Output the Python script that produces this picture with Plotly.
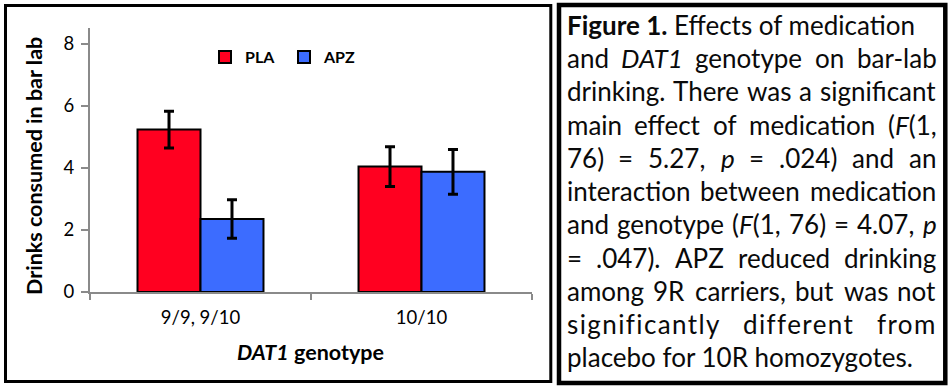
import json
import plotly.graph_objects as go

# ---------------- data ----------------
categories = ["9/9, 9/10", "10/10"]
series_names = ["PLA", "APZ"]
pla_values = [5.23, 4.04]
pla_errors = [0.59, 0.64]
apz_values = [2.35, 3.87]
apz_errors = [0.62, 0.72]
y_tick_values = [0, 2, 4, 6, 8]
y_tick_labels = ["0", "2", "4", "6", "8"]

# ---------------- geometry helpers ----------------
W, H = 951, 389
L, R, T, B = 90, 419, 28, 97
PW = W - L - R
PH = H - T - B


def px_x(px):
    return (px - L) / PW


def px_y(py):
    return (H - B - py) / PH


FONT = "Lato, 'Open Sans', sans-serif"
RED = "#FF0020"
BLUE = "#3C6CFF"
AXIS_GRAY = "#8A8A8A"

fig = go.Figure()
fig.add_trace(go.Bar(
    x=categories, y=pla_values, name=series_names[0],
    marker=dict(color=RED, line=dict(color="black", width=2)),
    error_y=dict(type="data", array=pla_errors, visible=True,
                 color="black", thickness=3, width=5),
))
fig.add_trace(go.Bar(
    x=categories, y=apz_values, name=series_names[1],
    marker=dict(color=BLUE, line=dict(color="black", width=2)),
    error_y=dict(type="data", array=apz_errors, visible=True,
                 color="black", thickness=3, width=5),
))

fig.update_layout(
    width=W, height=H,
    margin=dict(l=L, r=R, t=T, b=B, pad=0),
    paper_bgcolor="white", plot_bgcolor="white",
    barmode="group", bargap=0.43, bargroupgap=0,
    font=dict(family=FONT, color="black"),
    showlegend=True,
    legend=dict(
        orientation="h", x=px_x(205), xanchor="left",
        y=px_y(57), yanchor="middle",
        font=dict(family=FONT, size=16, color="black", weight="bold"),
        bgcolor="rgba(0,0,0,0)", borderwidth=0,
        entrywidth=34, itemclick=False, itemdoubleclick=False,
    ),
    xaxis=dict(
        type="category", range=[-0.5, 1.5],
        showline=True, linecolor=AXIS_GRAY, linewidth=2,
        ticks="outside", ticklen=6, tickwidth=2, tickcolor=AXIS_GRAY,
        tickson="boundaries", showgrid=False, zeroline=False,
        tickfont=dict(family=FONT, size=18.5, color="black"),
        ticklabelstandoff=8, fixedrange=True,
    ),
    yaxis=dict(
        range=[0, 8.5], tickvals=y_tick_values, ticktext=y_tick_labels,
        showline=True, linecolor=AXIS_GRAY, linewidth=2,
        ticks="outside", ticklen=7, tickwidth=2, tickcolor=AXIS_GRAY,
        showgrid=False, zeroline=False,
        tickfont=dict(family=FONT, size=18.5, color="black"),
        ticklabelstandoff=3, fixedrange=True,
    ),
)

annotations = []
# axis titles
annotations.append(dict(
    text="<b>Drinks consumed in bar lab</b>", textangle=-90,
    x=px_x(34), y=px_y(166), xref="paper", yref="paper",
    xanchor="center", yanchor="middle", showarrow=False,
    font=dict(family=FONT, size=21.5, color="black"),
))
annotations.append(dict(
    text="<b><i>DAT1</i> genotype</b>",
    x=px_x(310), y=px_y(352), xref="paper", yref="paper",
    xanchor="center", yanchor="middle", showarrow=False,
    font=dict(family=FONT, size=21.5, color="black"),
))

# caption text box: words are justified between LEFT and RIGHT
LEFT, RIGHT = 566.5, 936.5
SP = "<span style='letter-spacing:1.4px'>%s</span>"
cap_lines = [
    (False, ["<b>Figure 1.</b> Effects of medication"]),
    (True, ["and", "<i>DAT1</i>", "genotype", "on", "bar-lab"]),
    (True, ["drinking.", "There", "was", "a", "significant"]),
    (True, ["main", "effect", "of", "medication", "(<i>F</i>(1,"]),
    (True, ["76)", "=", "5.27,", "<i>p</i>", "=", ".024)", "and", "an"]),
    (True, ["interaction", "between", "medication"]),
    (True, ["and", "genotype", "(<i>F</i>(1,", "76)", "=", "4.07,", "<i>p</i>"]),
    (True, ["=", ".047).", "APZ", "reduced", "drinking"]),
    (True, ["among", "9R", "carriers,", "but", "was", "not"]),
    (True, [SP % "significantly", SP % "different", SP % "from"]),
    (False, ["placebo for 10R homozygotes."]),
]
CAP_SIZE = 26
justify_groups = []
for i, (justified, words) in enumerate(cap_lines):
    baseline = 35 + 33.25 * i
    ymid = baseline - 0.387 * CAP_SIZE
    idxs = []
    n = len(words)
    for k, text in enumerate(words):
        # provisional even spread; refined in the browser with measured widths
        xpx = LEFT + (RIGHT - LEFT) * (k / max(n - 1, 1)) * 0.85
        idxs.append(len(annotations))
        annotations.append(dict(
            text=text, x=px_x(xpx), y=px_y(ymid), xref="paper", yref="paper",
            xanchor="left", yanchor="middle", showarrow=False,
            font=dict(family=FONT, size=CAP_SIZE, color="#0a0a0a"),
            borderpad=0, borderwidth=0,
        ))
    if justified:
        justify_groups.append(idxs)
    else:
        annotations[idxs[0]]["x"] = px_x(LEFT)
fig.update_layout(annotations=annotations)

# frames
fig.add_shape(type="rect", xref="paper", yref="paper",
              x0=px_x(5.5), x1=px_x(550.8), y0=px_y(5.5), y1=px_y(381.5),
              line=dict(color="black", width=3), fillcolor="rgba(0,0,0,0)", layer="above")
fig.add_shape(type="rect", xref="paper", yref="paper",
              x0=px_x(559), x1=px_x(945.3), y0=px_y(5), y1=px_y(383),
              line=dict(color="black", width=4.5), fillcolor="rgba(0,0,0,0)", layer="above")

post_js = """
document.body.style.margin = '0';
document.body.style.padding = '0';
var gd = document.getElementById('{plot_id}');
var GROUPS = %s;
var LEFT = %f, RIGHT = %f, L0 = %f, PW = %f;
function justify() {
  var upd = {};
  GROUPS.forEach(function(idxs) {
    var widths = idxs.map(function(i) {
      var el = gd.querySelector('.annotation[data-index="' + i + '"] .annotation-text');
      return el ? el.getBoundingClientRect().width : 0;
    });
    var total = widths.reduce(function(a, b) { return a + b; }, 0);
    var gap = (RIGHT - LEFT - total) / Math.max(idxs.length - 1, 1);
    var x = LEFT;
    idxs.forEach(function(i, k) {
      upd['annotations[' + i + '].x'] = (x - L0) / PW;
      x += widths[k] + gap;
    });
  });
  return Plotly.relayout(gd, upd);
}
var ready = (document.fonts && document.fonts.ready) ? document.fonts.ready : Promise.resolve();
ready.then(justify);
""" % (json.dumps(justify_groups), LEFT, RIGHT, L, PW)

fig.write_html("out.html", config={"displayModeBar": False, "staticPlot": True},
               post_script=post_js)
